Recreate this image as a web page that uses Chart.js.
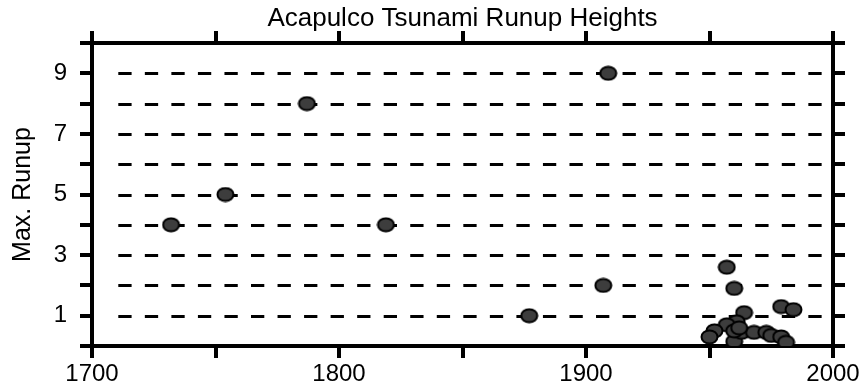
<!DOCTYPE html>
<html>
<head>
<meta charset="utf-8">
<script src="https://cdn.jsdelivr.net/npm/chart.js@4"></script>
<style>
  html, body { margin: 0; padding: 0; background: #fff; }
  #wrap { width: 867px; height: 389px; }
</style>
</head>
<body>
<div id="wrap"><canvas id="grafico" width="867" height="389"></canvas></div>
<script>
const anos = [
  1732, 1754, 1787, 1819, 1877, 1907, 1909,
  1957, 1960, 1979, 1984, 1964, 1961, 1957, 1952, 1950,
  1960, 1963, 1968, 1973, 1975, 1979, 1981, 1960, 1962
];
const alturas = [
  4, 5, 8, 4, 1, 2, 9,
  2.6, 1.9, 1.3, 1.2, 1.1, 0.8, 0.7, 0.5, 0.3,
  0.15, 0.45, 0.45, 0.45, 0.35, 0.3, 0.12, 0.5, 0.6
];
const rotulosX = [1700, 1800, 1900, 2000];
const rotulosY = [1, 3, 5, 7, 9];
const linhasGrade = [1, 2, 3, 4, 5, 6, 7, 8, 9];

const fonte = 'Liberation Sans, Arial, Helvetica, sans-serif';

// marcador elíptico (cinza escuro com contorno preto)
function criarMarcador() {
  const c = document.createElement('canvas');
  c.width = 19; c.height = 16;
  const g = c.getContext('2d');
  g.beginPath();
  g.ellipse(9.5, 8, 8, 6.6, 0, 0, Math.PI * 2);
  g.fillStyle = '#3d3d3d';
  g.fill();
  g.lineWidth = 2;
  g.strokeStyle = '#000';
  g.stroke();
  return c;
}

// linhas tracejadas horizontais
const gradeTracejada = {
  id: 'gradeTracejada',
  beforeDatasetsDraw(chart) {
    const { ctx, chartArea } = chart;
    const y = chart.scales.y;
    ctx.save();
    ctx.strokeStyle = '#000';
    ctx.lineWidth = 3;
    ctx.setLineDash([13.3, 13.24]);
    linhasGrade.forEach(v => {
      const py = Math.round(y.getPixelForValue(v)) + 0.5;
      ctx.beginPath();
      ctx.moveTo(chartArea.left + 26.3, py);
      ctx.lineTo(chartArea.right - 4, py);
      ctx.stroke();
    });
    ctx.restore();
  }
};

const eixoBase = (pos) => ({
  type: 'linear',
  position: pos,
  border: { display: true, color: '#000', width: 4 },
  grid: { drawOnChartArea: false, drawTicks: true, tickLength: 12, lineWidth: 4, color: '#000' }
});

const marcador = criarMarcador();

new Chart(document.getElementById('grafico'), {
  type: 'scatter',
  data: {
    datasets: [{
      data: anos.map((a, i) => ({ x: a, y: alturas[i] })),
      pointStyle: marcador,
      pointRadius: 8,
      pointHoverRadius: 8
    }]
  },
  options: {
    responsive: false,
    animation: false,
    events: [],
    layout: { padding: 0 },
    plugins: { legend: { display: false }, tooltip: { enabled: false }, title: { display: false } },
    scales: {
      x: {
        ...eixoBase('bottom'),
        min: 1700, max: 2000,
        ticks: {
          stepSize: 50, color: '#000', padding: 2, maxRotation: 0, autoSkip: false,
          font: { family: fonte, size: 24 },
          callback: v => rotulosX.includes(v) ? String(v) : ''
        },
        afterFit: s => { s.height = 43; }
      },
      xTopo: {
        ...eixoBase('top'),
        min: 1700, max: 2000,
        ticks: { stepSize: 50, display: false },
        title: {
          display: true, text: 'Acapulco Tsunami Runup Heights', color: '#000',
          font: { family: fonte, size: 26 }, padding: { top: 3, bottom: 0 }
        },
        afterFit: s => { s.height = 43; }
      },
      y: {
        ...eixoBase('left'),
        min: 0, max: 10,
        ticks: {
          stepSize: 1, color: '#000', padding: 13, autoSkip: false,
          font: { family: fonte, size: 24 },
          callback: v => rotulosY.includes(v) ? String(v) : ''
        },
        title: {
          display: true, text: 'Max. Runup', color: '#000',
          font: { family: fonte, size: 25 }, padding: { top: 8, bottom: 0 }
        },
        afterFit: s => { s.width = 92; }
      },
      yDir: {
        ...eixoBase('right'),
        min: 0, max: 10,
        ticks: { stepSize: 1, display: false },
        afterFit: s => { s.width = 34; }
      }
    }
  },
  plugins: [gradeTracejada]
});
</script>
</body>
</html>
